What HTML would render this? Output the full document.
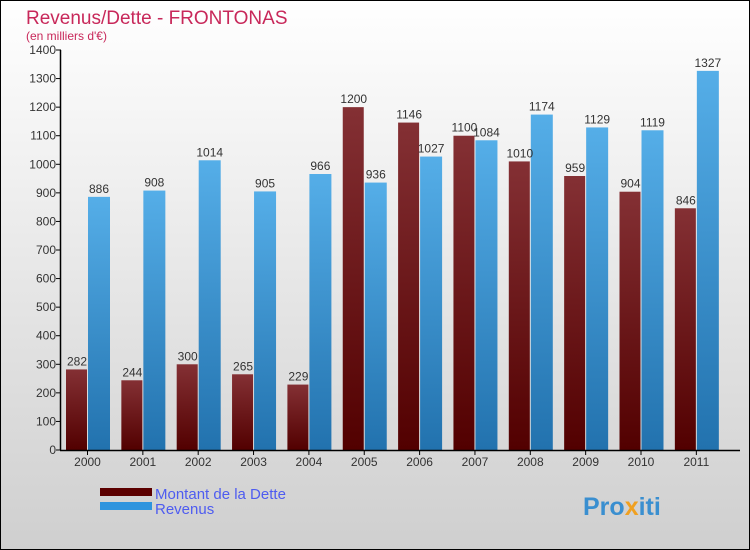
<!DOCTYPE html>
<html><head><meta charset="utf-8"><style>
body{margin:0}
svg{display:block;font-family:"Liberation Sans",sans-serif}
</style></head><body>
<svg id="c" width="750" height="550">
<defs>
<linearGradient id="bg" x1="0" y1="0" x2="0" y2="1"><stop offset="0" stop-color="#ffffff"/><stop offset="1" stop-color="#cfcfcf"/></linearGradient>
<linearGradient id="gd" x1="0" y1="0" x2="0" y2="1"><stop offset="0" stop-color="#843034"/><stop offset="1" stop-color="#520000"/></linearGradient>
<linearGradient id="gr" x1="0" y1="0" x2="0" y2="1"><stop offset="0" stop-color="#55aee8"/><stop offset="1" stop-color="#2272ae"/></linearGradient>
</defs>
<rect x="0.5" y="0.5" width="749" height="549" fill="url(#bg)" stroke="#000"/>
<text x="26" y="24" font-size="19" fill="#c8285a">Revenus/Dette - FRONTONAS</text>
<text x="26" y="40" font-size="12" fill="#c8285a">(en milliers d'€)</text>
<g id="g"></g>
<rect x="100" y="488" width="52" height="8" fill="#5c0000"/>
<text x="155" y="499" font-size="15" fill="#4e5cf0">Montant de la Dette</text>
<rect x="100" y="502" width="52" height="8" fill="#2e94de"/>
<text x="155" y="514" font-size="15" fill="#4e5cf0">Revenus</text>
<text x="583" y="515" font-size="25" font-weight="bold" fill="#3a8fd0">Pro<tspan fill="#f0a020">x</tspan>iti</text>
</svg>
<script>
const years=["2000","2001","2002","2003","2004","2005","2006","2007","2008","2009","2010","2011"];
const dette=[282,244,300,265,229,1200,1146,1100,1010,959,904,846];
const revenus=[886,908,1014,905,966,936,1027,1084,1174,1129,1119,1327];
const ticks=[0,100,200,300,400,500,600,700,800,900,1000,1100,1200,1300,1400];
const NS="http://www.w3.org/2000/svg",g=document.getElementById('g');
const y=v=>450-v*400/1400, x0=i=>66+i*55.35;
function mk(t,a,txt){const e=document.createElementNS(NS,t);for(const k in a)e.setAttribute(k,a[k]);if(txt!=null)e.textContent=txt;g.appendChild(e);return e;}
ticks.forEach(t=>{
 const l=mk('line',{x1:56,x2:61,y1:y(t),y2:y(t),stroke:'#000'});
 
 
 const tx=mk('text',{x:56,y:y(t)+4,'font-size':12,'text-anchor':'end',fill:'#333'},t);
 
 
});
years.forEach((yr,i)=>{
 const xs=x0(i);
 const b1=mk('rect',{x:xs,y:y(dette[i]),width:21,height:450-y(dette[i]),fill:'url(#gd)'});
 
 
 const b2=mk('rect',{x:xs+22,y:y(revenus[i]),width:22,height:450-y(revenus[i]),fill:'url(#gr)'});
 
 
 const l1=mk('text',{x:xs+11,y:y(dette[i])-4,'font-size':12,'text-anchor':'middle',fill:'#333'},dette[i]);
 
 
 const l2=mk('text',{x:xs+33,y:y(revenus[i])-4,'font-size':12,'text-anchor':'middle',fill:'#333'},revenus[i]);
 
 
 const tk=mk('line',{x1:xs+21.5,x2:xs+21.5,y1:450,y2:455,stroke:'#000'});
 
 
 const xl=mk('text',{x:xs+21.5,y:466,'font-size':12,'text-anchor':'middle',fill:'#333'},yr);
 
 
});
const ax=mk('line',{x1:60.5,x2:60.5,y1:50,y2:450.5,stroke:'#000','stroke-width':1.5});


const bx=mk('line',{x1:60,x2:740,y1:450.5,y2:450.5,stroke:'#000','stroke-width':1.5});


</script>
</body></html>
